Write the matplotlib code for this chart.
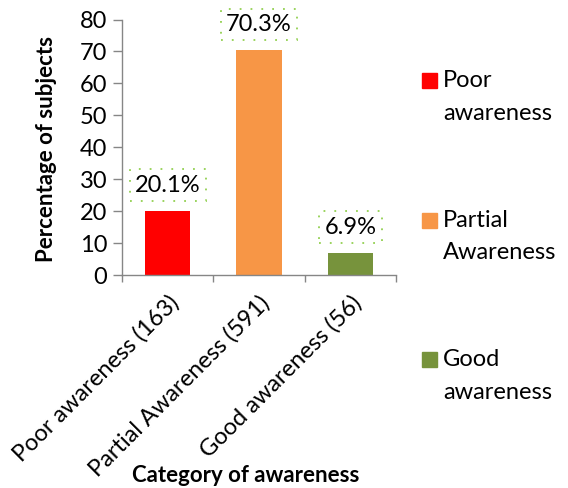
import matplotlib.pyplot as plt
from matplotlib.patches import Rectangle

categories = ['Poor awareness (163)', 'Partial Awareness (591)', 'Good awareness (56)']
percent = [20.1, 70.3, 6.9]
legend_names = ['Poor\nawareness', 'Partial\nAwareness', 'Good\nawareness']
colors = ['#FF0000', '#F79646', '#77933C']

plt.rcParams['font.family'] = ['Lato', 'DejaVu Sans']
W, H = 568, 488
fig = plt.figure(figsize=(W / 100, H / 100), dpi=100)
ax = fig.add_axes([122 / W, 1 - 275 / H, (396 - 122) / W, (275 - 19.5) / H])

x = range(len(categories))
bars = ax.bar(x, percent, width=0.5, color=colors)

ax.set_xlim(-0.5, 2.5)
ax.set_ylim(0, 80)
ax.set_yticks(range(0, 81, 10))
ax.tick_params(axis='y', labelsize=17, length=6.5, width=1, color='#868686', pad=4)
ax.set_xticks(list(x))
ax.set_xticklabels(categories, rotation=45, ha='right', rotation_mode='anchor', fontsize=17)
ax.tick_params(axis='x', which='major', length=0, pad=12)
ax.set_xticks([-0.5, 0.5, 1.5, 2.5], minor=True)
ax.tick_params(axis='x', which='minor', length=5, width=1, color='#868686')
for s in ['top', 'right']:
    ax.spines[s].set_visible(False)
for s in ['left', 'bottom']:
    ax.spines[s].set_color('#868686')
    ax.spines[s].set_linewidth(1)

ax.bar_label(bars, labels=[f'{v}%' for v in percent], padding=11, fontsize=17,
             bbox=dict(boxstyle='square,pad=0.22', facecolor='white', edgecolor='#92D050',
                       linestyle=(0, (1, 5)), linewidth=1.3))

fig.text(47 / W, 1 - 149 / H, 'Percentage of subjects', rotation=90, fontsize=16,
         fontweight='bold', ha='center', va='center')
fig.text(246 / W, 1 - 475 / H, 'Category of awareness', fontsize=16,
         fontweight='bold', ha='center', va='center')

# legend drawn by hand so the square sits on the first line
for i, (name, c) in enumerate(zip(legend_names, colors)):
    top = 73 + i * 139.5
    fig.patches.append(Rectangle((422 / W, 1 - (top + 15) / H), 15 / W, 15 / H,
                                 transform=fig.transFigure, color=c))
    fig.text(443 / W, 1 - (top + 24) / H, name, fontsize=17, ha='left', va='center',
             linespacing=1.65)

fig.savefig('out.png', dpi=100)
